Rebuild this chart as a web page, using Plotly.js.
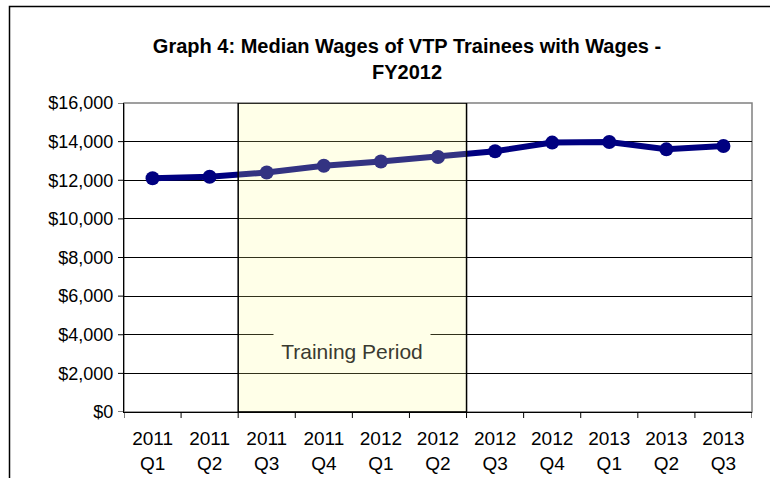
<!DOCTYPE html>
<html>
<head>
<meta charset="utf-8">
<script src="https://cdn.plot.ly/plotly-3.0.1.min.js"></script>
<style>html,body{margin:0;padding:0;background:#fff;}#chart{width:770px;height:478px;}</style>
</head>
<body>
<div id="chart"></div>
<script>
const categories = ["2011<br>Q1","2011<br>Q2","2011<br>Q3","2011<br>Q4","2012<br>Q1","2012<br>Q2","2012<br>Q3","2012<br>Q4","2013<br>Q1","2013<br>Q2","2013<br>Q3"];
const medianWages = [12100, 12180, 12400, 12750, 12970, 13200, 13500, 13950, 13980, 13600, 13770];
const yTickStep = 2000;
const yMax = 16000;
const periodStartIndex = 1.5;
const periodEndIndex = 5.5;
const periodLabel = "Training Period";
const titleText = "<b>Graph 4: Median Wages of VTP Trainees with Wages -<br>FY2012</b>";

const trace = {
  x: categories,
  y: medianWages,
  type: 'scatter',
  mode: 'lines+markers',
  line: {color: '#000080', width: 6},
  marker: {color: '#000080', size: 14},
  hoverinfo: 'skip',
  cliponaxis: false
};

const nCat = categories.length;
const plotW = 770 - 124 - 18;
const plotH = 478 - 103 - 66;

const tickShapes = [];
for (let i = 0; i <= nCat; i++) {
  tickShapes.push({type: 'line', xref: 'x', yref: 'paper', x0: i - 0.5, x1: i - 0.5,
    y0: 0, y1: -6 / plotH, line: {color: '#000', width: 1}, layer: 'above'});
}
for (let v = 0; v <= yMax; v += yTickStep) {
  tickShapes.push({type: 'line', xref: 'paper', yref: 'y', x0: -6 / plotW, x1: 0,
    y0: v, y1: v, line: {color: '#000', width: 1}, layer: 'above'});
}

const layout = {
  width: 770, height: 478,
  margin: {l: 124, r: 18, t: 103, b: 66},
  paper_bgcolor: '#ffffff',
  plot_bgcolor: '#ffffff',
  showlegend: false,
  font: {family: 'Liberation Sans, Arial, sans-serif', color: '#000', size: 18},
  title: {
    text: titleText,
    font: {family: 'Liberation Sans, Arial, sans-serif', size: 20, color: '#000'},
    x: 407/770, xref: 'container', xanchor: 'center',
    y: 1 - 53/478, yref: 'container', yanchor: 'middle'
  },
  xaxis: {
    type: 'category',
    range: [-0.5, nCat - 0.5],
    ticks: '',
    ticklabelstandoff: 9,
    showgrid: false,
    showline: true, linecolor: '#000', linewidth: 1,
    tickfont: {size: 19, color: '#000'},
    fixedrange: true
  },
  yaxis: {
    range: [0, yMax],
    dtick: yTickStep,
    tickprefix: '$',
    tickformat: ',d',
    ticks: '',
    ticklabelstandoff: 6,
    showgrid: true, gridcolor: '#000', gridwidth: 1,
    zeroline: false,
    showline: true, linecolor: '#000', linewidth: 1,
    tickfont: {size: 18, color: '#000'},
    fixedrange: true
  },
  shapes: [
    {type: 'rect', xref: 'paper', yref: 'paper', x0: 0, x1: 1, y0: 0, y1: 1,
     line: {color: '#808080', width: 1.5}, fillcolor: 'rgba(0,0,0,0)', layer: 'below'},
    {type: 'rect', xref: 'x', yref: 'y', x0: periodStartIndex, x1: periodEndIndex, y0: 0, y1: yMax,
     line: {color: '#000', width: 1.5}, fillcolor: 'rgba(255,255,140,0.2)', layer: 'above'},
    {type: 'path', xref: 'paper', yref: 'paper',
     path: 'M ' + ((9.5-124)/plotW) + ' ' + ((412-490)/plotH) + ' L ' + ((9.5-124)/plotW) + ' ' + ((412-6.5)/plotH) + ' L ' + ((780-124)/plotW) + ' ' + ((412-6.5)/plotH),
     line: {color: '#000', width: 1.5}, layer: 'above'}
  ].concat(tickShapes),
  annotations: [
    {x: 3.5, xref: 'x', y: 3150, yref: 'y', text: periodLabel, showarrow: false,
     font: {size: 21, color: '#3a3a30'}, bgcolor: '#FFFFE8',
     width: 156, height: 36, xanchor: 'center', yanchor: 'middle', borderpad: 0}
  ]
};

Plotly.newPlot('chart', [trace], layout, {staticPlot: true, displayModeBar: false});
</script>
</body>
</html>
